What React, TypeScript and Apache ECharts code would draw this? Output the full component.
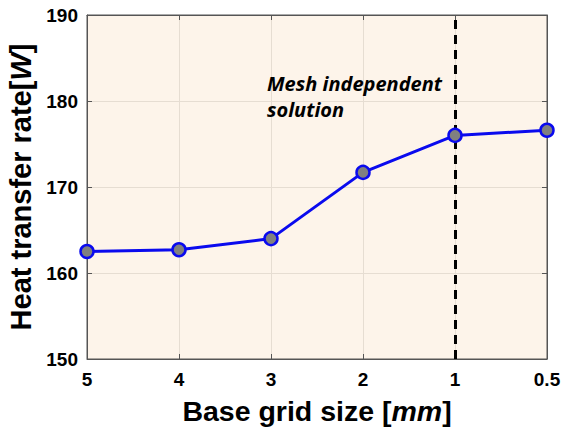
import React, { useEffect, useRef } from "react";
import * as echarts from "echarts";

const gridSizes = ["5", "4", "3", "2", "1", "0.5"];
const heatRate = [162.5, 162.7, 164.0, 171.7, 176.0, 176.6];
const yTicks = { min: 150, max: 190, interval: 10 };
const meshIndependentAt = "1";

export default function App() {
  const ref = useRef<HTMLDivElement>(null);

  useEffect(() => {
    if (!ref.current) return;
    document.body.style.margin = "0";
    const chart = echarts.init(ref.current, undefined, { renderer: "svg" });
    const font = "'Liberation Sans', Arial, sans-serif";
    chart.setOption({
      animation: false,
      backgroundColor: "#ffffff",
      grid: {
        left: 87,
        right: 14,
        top: 15,
        bottom: 74,
        outerBoundsMode: "none",
        containLabel: false,
        show: true,
        backgroundColor: "#fdf4ea",
        borderColor: "#555",
        borderWidth: 1,
      },
      xAxis: [
        {
          type: "category",
          data: gridSizes,
          boundaryGap: false,
          axisLine: { lineStyle: { color: "#555", width: 1 } },
          axisTick: { inside: true, length: 5, lineStyle: { color: "#555" } },
          axisLabel: {
            color: "#000",
            fontWeight: "bold",
            fontSize: 19,
            fontFamily: font,
            margin: 11,
          },
          splitLine: { show: true, lineStyle: { color: "#e6ddd2", width: 1 } },
          name: "{b|Base grid size [}{i|mm}{b|]}",
          nameLocation: "middle",
          nameGap: 37,
          nameTextStyle: {
            rich: {
              b: { fontSize: 28.5, fontWeight: "bold", fontFamily: font, color: "#000" },
              i: { fontSize: 28.5, fontWeight: "bold", fontStyle: "italic", fontFamily: font, color: "#000" },
            },
          },
        },
        {
          type: "category",
          data: gridSizes,
          boundaryGap: false,
          position: "top",
          axisLine: { lineStyle: { color: "#555" } },
          axisTick: { inside: true, length: 5, lineStyle: { color: "#555" } },
          axisLabel: { show: false },
        },
      ],
      yAxis: [
        {
          type: "value",
          min: yTicks.min,
          max: yTicks.max,
          interval: yTicks.interval,
          axisLine: { show: true, lineStyle: { color: "#555" } },
          axisTick: { show: true, inside: true, length: 5, lineStyle: { color: "#555" } },
          axisLabel: {
            color: "#000",
            fontWeight: "bold",
            fontSize: 19,
            fontFamily: font,
            margin: 9,
          },
          splitLine: { show: true, lineStyle: { color: "#e6ddd2", width: 1 } },
          name: "{b|Heat transfer rate[}{i|W}{b|]}",
          nameLocation: "middle",
          nameRotate: 90,
          nameGap: 45,
          nameTextStyle: {
            rich: {
              b: { fontSize: 29, fontWeight: "bold", fontFamily: font, color: "#000" },
              i: { fontSize: 29, fontWeight: "bold", fontStyle: "italic", fontFamily: font, color: "#000" },
            },
          },
        },
        {
          type: "value",
          min: yTicks.min,
          max: yTicks.max,
          interval: yTicks.interval,
          position: "right",
          axisLine: { show: true, lineStyle: { color: "#555" } },
          axisTick: { show: true, inside: true, length: 5, lineStyle: { color: "#555" } },
          axisLabel: { show: false },
          splitLine: { show: false },
        },
      ],
      series: [
        {
          type: "line",
          data: heatRate,
          symbol: "circle",
          symbolSize: 13,
          lineStyle: { color: "#0a0aee", width: 3 },
          itemStyle: { color: "#808080", borderColor: "#0a0aee", borderWidth: 2.5 },
          z: 5,
          markLine: {
            silent: true,
            symbol: "none",
            label: { show: false },
            lineStyle: { color: "#000", type: [9, 6], width: 3 },
            data: [{ xAxis: meshIndependentAt }],
          },
        },
      ],
      graphic: [
        {
          type: "text",
          left: 267,
          top: 70,
          style: {
            text: "Mesh independent\nsolution",
            fill: "#000",
            font: "italic bold 20px 'Open Sans', sans-serif",
            lineHeight: 26,
          },
          z: 10,
        },
      ],
    });
    return () => chart.dispose();
  }, []);

  return <div ref={ref} style={{ width: 561, height: 433 }} />;
}
